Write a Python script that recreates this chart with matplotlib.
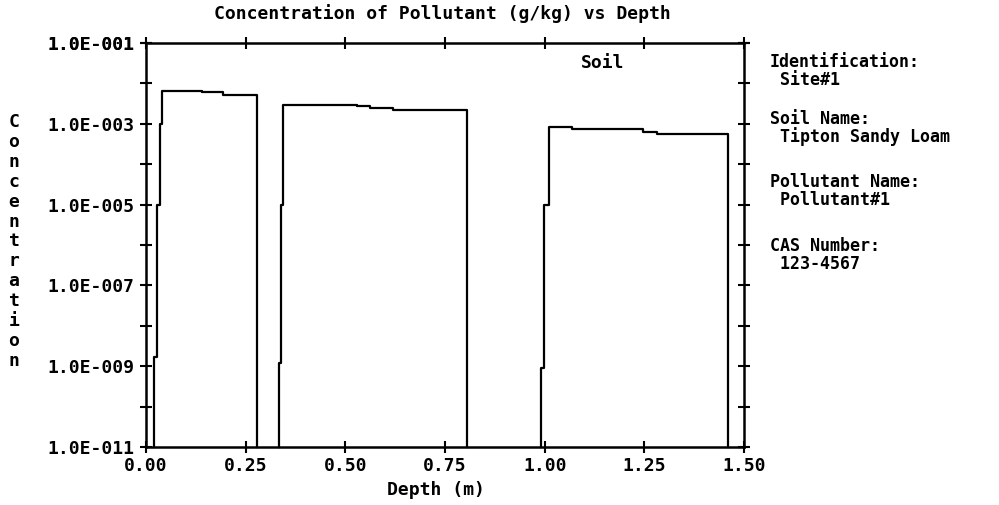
import numpy as np
import matplotlib
matplotlib.use("Agg")
import matplotlib.pyplot as plt
from matplotlib.ticker import FixedLocator, FuncFormatter

# profile: depth (m) and concentration (g/kg) vertices
depth1 = [0.020, 0.020, 0.028, 0.028, 0.035, 0.035, 0.040, 0.040, 0.140, 0.140, 0.193, 0.193, 0.278, 0.278]
conc1 = [1e-11, 1.7e-9, 1.7e-9, 1e-5, 1e-5, 1e-3, 1e-3, 6.6e-3, 6.6e-3, 6.2e-3, 6.2e-3, 5.2e-3, 5.2e-3, 1e-11]

depth2 = [0.334, 0.334, 0.339, 0.339, 0.344, 0.344, 0.529, 0.529, 0.562, 0.562, 0.620, 0.620, 0.805, 0.805]
conc2 = [1e-11, 1.2e-9, 1.2e-9, 1e-5, 1e-5, 2.9e-3, 2.9e-3, 2.8e-3, 2.8e-3, 2.5e-3, 2.5e-3, 2.2e-3, 2.2e-3, 1e-11]

depth3 = [0.991, 0.991, 0.998, 0.998, 1.011, 1.011, 1.068, 1.068, 1.247, 1.247, 1.282, 1.282, 1.460, 1.460]
conc3 = [1e-11, 9e-10, 9e-10, 1e-5, 1e-5, 8.2e-4, 8.2e-4, 7.3e-4, 7.3e-4, 6.4e-4, 6.4e-4, 5.6e-4, 5.6e-4, 1e-11]

x_ticks = [0.0, 0.25, 0.5, 0.75, 1.0, 1.25, 1.5]
y_exponents = list(range(-11, 0))

info_lines = ["Identification:", " Site#1", "Soil Name:", " Tipton Sandy Loam",
              "Pollutant Name:", " Pollutant#1", "CAS Number:", " 123-4567"]
info_y = [62, 80, 119, 137, 182, 200, 246, 264]

mono = "DejaVu Sans Mono"
fs = 13

fig = plt.figure(figsize=(9.99, 5.05), dpi=100)
ax = fig.add_axes([146 / 999, 1 - 447 / 505, (744 - 146) / 999, (447 - 43) / 505])

for d, c in [(depth1, conc1), (depth2, conc2), (depth3, conc3)]:
    ax.plot(d, c, color="black", lw=1.6, clip_on=False)

ax.set_yscale("log")
ax.set_xlim(0, 1.5)
ax.set_ylim(1e-11, 1e-1)

ax.xaxis.set_major_locator(FixedLocator(x_ticks))
ax.xaxis.set_major_formatter(FuncFormatter(lambda v, p: "%.2f" % v))
ax.yaxis.set_major_locator(FixedLocator([10.0 ** e for e in y_exponents + [-1]]))
ax.yaxis.set_minor_locator(FixedLocator([]))


def ylab(v, p):
    e = int(round(np.log10(v)))
    if e % 2 == 0:
        return ""
    return "1.0E-%03d" % abs(e)


ax.yaxis.set_major_formatter(FuncFormatter(ylab))
ax.tick_params(axis="both", which="major", direction="inout", length=9, width=1.5,
               top=True, right=True, pad=3)
ax.tick_params(axis="y", pad=4)
for lbl in ax.get_xticklabels() + ax.get_yticklabels():
    lbl.set_fontfamily(mono)
    lbl.set_fontweight("bold")
    lbl.set_fontsize(fs)
for s in ax.spines.values():
    s.set_linewidth(1.8)

ax.text(1.146, 10 ** (-1 - (63 - 43) / 40.4), "Soil", ha="center", va="center",
        family=mono, weight="bold", fontsize=fs)

fig.text(442 / 999, 1 - 14 / 505, "Concentration of Pollutant (g/kg) vs Depth",
         ha="center", va="center", family=mono, weight="bold", fontsize=fs)
fig.text(436 / 999, 1 - 490 / 505, "Depth (m)", ha="center", va="center",
         family=mono, weight="bold", fontsize=fs)
fig.text(14 / 999, 1 - 241.5 / 505, "\n".join("Concentration"), ha="center", va="center",
         family=mono, weight="bold", fontsize=fs, linespacing=1.14)

for t, yy in zip(info_lines, info_y):
    fig.text(770 / 999, 1 - yy / 505, t, ha="left", va="center",
             family=mono, weight="bold", fontsize=12)

fig.savefig("out.png", dpi=100)
